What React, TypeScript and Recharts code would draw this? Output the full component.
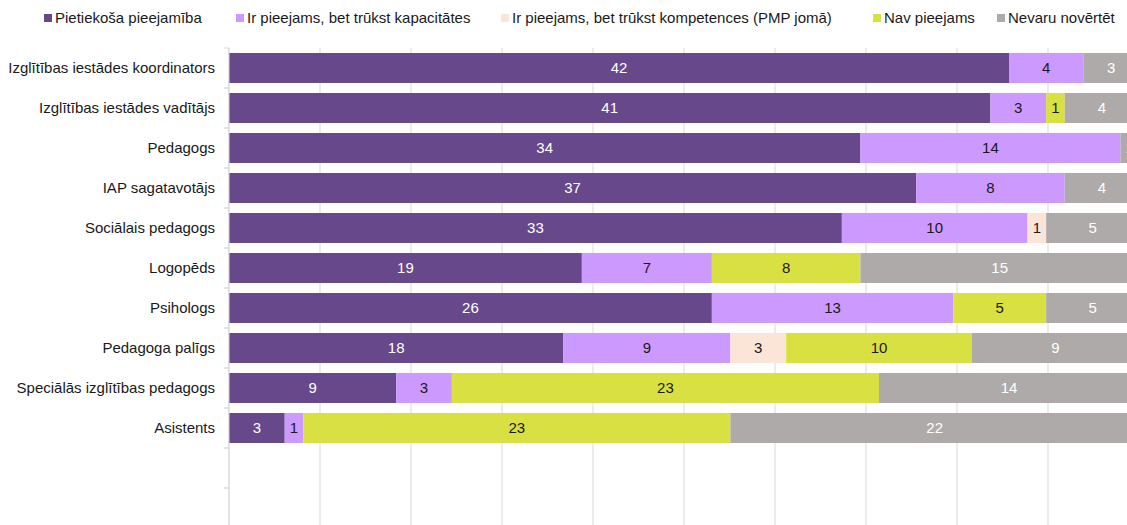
import React from 'react';
import { BarChart, Bar, XAxis, YAxis, CartesianGrid, Legend, LabelList } from 'recharts';

const categories = [
  'Izglītības iestādes koordinators',
  'Izglītības iestādes vadītājs',
  'Pedagogs',
  'IAP sagatavotājs',
  'Sociālais pedagogs',
  'Logopēds',
  'Psihologs',
  'Pedagoga palīgs',
  'Speciālās izglītības pedagogs',
  'Asistents',
  '',
  '',
];

const pietiekosa = [42, 41, 34, 37, 33, 19, 26, 18, 9, 3];
const kapacitate = [4, 3, 14, 8, 10, 7, 13, 9, 3, 1];
const kompetence = [0, 0, 0, 0, 1, 0, 0, 3, 0, 0];
const navPieejams = [0, 1, 0, 0, 0, 8, 5, 10, 23, 23];
const nevaru = [3, 4, 1, 4, 5, 15, 5, 9, 14, 22];

const xTicks = [0, 0.1, 0.2, 0.3, 0.4, 0.5, 0.6, 0.7, 0.8, 0.9, 1];

const series = [
  { key: 'a', name: 'Pietiekoša pieejamība', values: pietiekosa, color: '#67488B', label: '#FFFFFF' },
  { key: 'b', name: 'Ir pieejams, bet trūkst kapacitātes', values: kapacitate, color: '#CC99FF', label: '#1A1A1A' },
  { key: 'c', name: 'Ir pieejams, bet trūkst kompetences (PMP jomā)', values: kompetence, color: '#FBE5D6', label: '#1A1A1A' },
  { key: 'd', name: 'Nav pieejams', values: navPieejams, color: '#D9E142', label: '#1A1A1A' },
  { key: 'e', name: 'Nevaru novērtēt', values: nevaru, color: '#AEAAAA', label: '#FFFFFF' },
];

// legend item left edges (styling)
const legendLeft = [44, 236, 501, 873, 997];

const data = categories.map((name, i) => {
  const row: any = { name };
  series.forEach((s) => {
    const v = s.values[i];
    row[s.key] = v === undefined ? null : v;
  });
  return row;
});

const FONT = '"Liberation Sans", Arial, sans-serif';

const CatTick = (props: any) => {
  const { x, y, payload } = props;
  const ax = x + 14;
  return (
    <g>
      <text x={x} y={y} dy={5} textAnchor="end" style={{ fontSize: 15, fontFamily: FONT }} fill="#1A1A1A">
        {payload.value}
      </text>
      <line x1={ax - 5} x2={ax} y1={y - 20} y2={y - 20} stroke="#D9D9D9" />
      <line x1={ax - 5} x2={ax} y1={y + 20} y2={y + 20} stroke="#D9D9D9" />
    </g>
  );
};

const LegendContent = () => (
  <div style={{ position: 'relative', height: 20, fontFamily: FONT, fontSize: 15, color: '#1A1A1A', lineHeight: '20px', whiteSpace: 'nowrap' }}>
    {series.map((s, i) => (
      <div key={s.key} style={{ position: 'absolute', left: legendLeft[i], top: 0, display: 'flex', alignItems: 'center' }}>
        <span style={{ display: 'inline-block', width: 8, height: 8, background: s.color, marginRight: 3 }} />
        <span>{s.name}</span>
      </div>
    ))}
  </div>
);

const renderLabel = (color: string) => (props: any) => {
  const { x, y, width, height, value } = props;
  if (!value) return null;
  return (
    <text x={x + width / 2} y={y + height / 2} dy={5} textAnchor="middle" style={{ fontSize: 15, fontFamily: FONT }} fill={color}>
      {value}
    </text>
  );
};

export default function App() {
  return (
    <div style={{ position: 'fixed', left: 0, top: 0, width: 1127, height: 525, overflow: 'hidden', background: '#fff' }}>
      <BarChart
        width={1145}
        height={563}
        data={data}
        layout="vertical"
        stackOffset="expand"
        barSize={30}
        margin={{ top: 48, right: 6, left: 0, bottom: 5 }}
      >
        <CartesianGrid horizontal={false} stroke="#D9D9D9" />
        <XAxis
          type="number"
          domain={[0, 1]}
          ticks={xTicks}
          tickFormatter={(v: number) => `${Math.round(v * 100)}%`}
          axisLine={{ stroke: '#D9D9D9' }}
          tickLine={false}
          tick={{ fontSize: 15, fill: '#595959', fontFamily: FONT }}
          height={30}
        />
        <YAxis
          type="category"
          dataKey="name"
          width={229}
          axisLine={{ stroke: '#D9D9D9' }}
          tickLine={false}
          tickSize={5}
          tickMargin={9}
          interval={0}
          tick={<CatTick />}
        />
        <Legend
          verticalAlign="middle"
          align="center"
          layout="horizontal"
          wrapperStyle={{ top: 8, left: 0, width: 1127 }}
          content={<LegendContent />}
        />
        {series.map((s) => (
          <Bar key={s.key} dataKey={s.key} name={s.name} stackId="s" fill={s.color} isAnimationActive={false}>
            <LabelList dataKey={s.key} content={renderLabel(s.label)} />
          </Bar>
        ))}
      </BarChart>
    </div>
  );
}
